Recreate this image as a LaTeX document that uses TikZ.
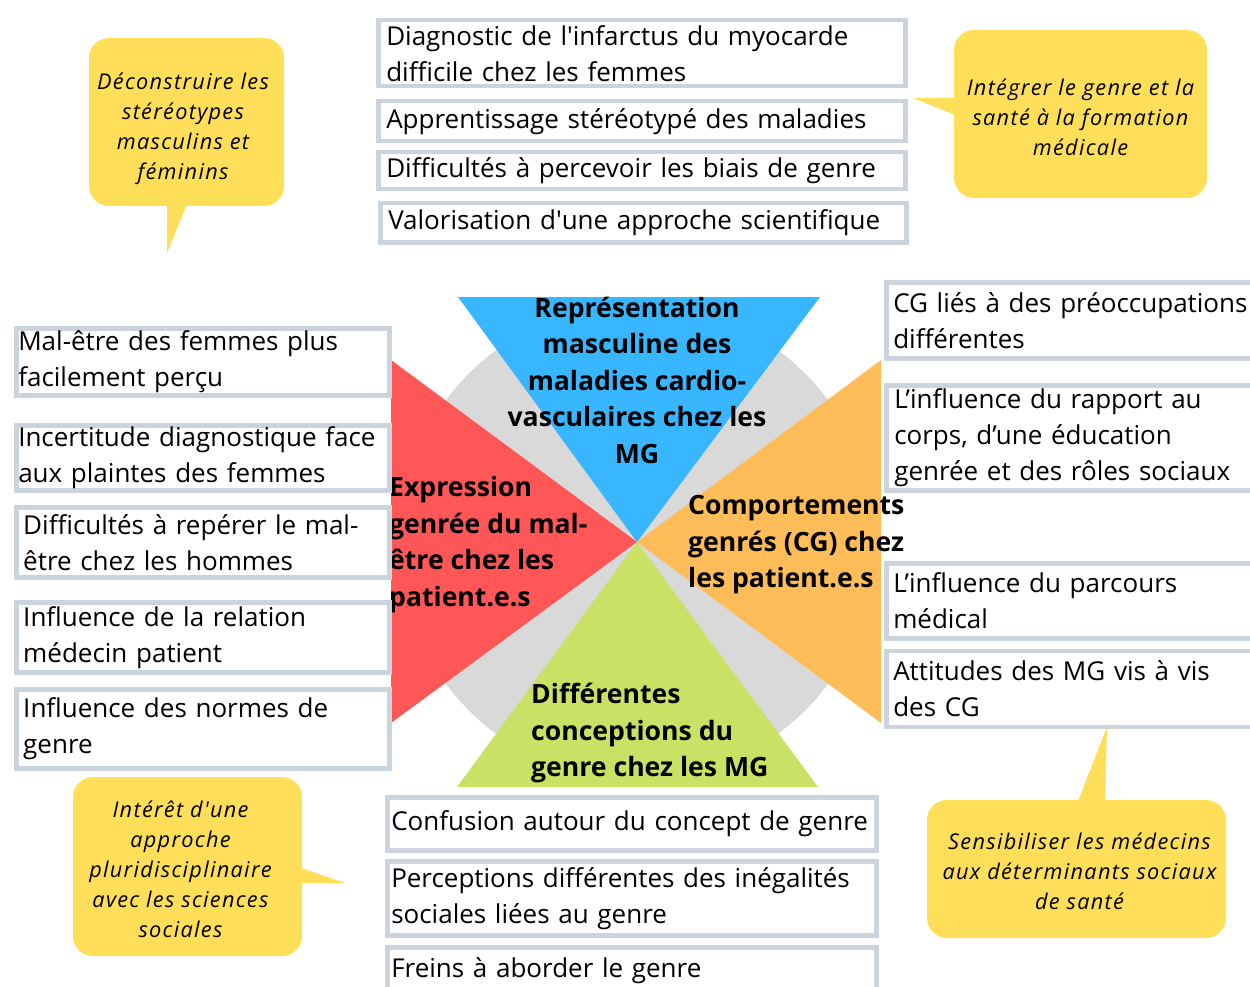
\documentclass[tikz,border=0pt]{standalone}
\usepackage{fontspec}
\setmainfont{Open Sans}
\newfontfamily\bubblefont[LetterSpace=6]{Open Sans}
\definecolor{triBlue}{HTML}{38B6FF}
\definecolor{triRed}{HTML}{FF5757}
\definecolor{triOrange}{HTML}{FFBD59}
\definecolor{triGreen}{HTML}{C9E265}
\definecolor{discGray}{HTML}{D9D9D9}
\definecolor{bubbleYellow}{HTML}{FFDE59}
\definecolor{frameGray}{HTML}{CBD3DC}

\begin{document}
\begin{tikzpicture}[x=1pt,y=-1pt,
    item/.style={draw=frameGray, line width=4.5pt, fill=white, anchor=north west,
        inner ysep=0pt, inner xsep=8pt, align=left, font=\fontsize{26}{36}\selectfont},
    theme/.style={inner sep=0pt, font=\fontsize{26.6}{36.5}\selectfont\bfseries},
    bubble/.style={fill=bubbleYellow, rounded corners=20pt, inner sep=0pt},
    bubbletext/.style={inner sep=0pt, align=center, font=\fontsize{21.7}{30}\selectfont\bubblefont\itshape}]
    \useasboundingbox (0,0) rectangle (1250,987);

    % centre
    \fill[discGray] (637,542) circle (238pt);
    \fill[triBlue] (458,297) -- (820,297) -- (637,542) -- cycle;
    \fill[triRed] (391,360) -- (391,723) -- (637,542) -- cycle;
    \fill[triOrange] (881,360) -- (881,723) -- (637,542) -- cycle;
    \fill[triGreen] (457,787) -- (818,787) -- (637,542) -- cycle;

    \node[theme, align=center] (repr) at (637,380) {Représentation\\masculine des\\maladies cardio-\\vasculaires chez les\\MG};
    \node[theme, align=left, anchor=west] (expr) at (389,544.5) {Expression\\genrée du mal-\\être chez les\\patient.e.s};
    \node[theme, align=left, anchor=west] (comp) at (688,545) {Comportements\\genrés (CG) chez\\les patient.e.s};
    \node[theme, align=left, anchor=west] (conc) at (531,733) {Différentes\\conceptions du\\genre chez les MG};

    % top
    \node[item, text width=511, minimum height=66] (diag) at (376,18) {Diagnostic de l\textquotesingle infarctus du myocarde\\difficile chez les femmes};
    \node[item, text width=511, minimum height=40] (appr) at (376,99) {Apprentissage stéréotypé des maladies};
    \node[item, text width=511, minimum height=37] (perc) at (376,150) {Difficultés à percevoir les biais de genre};
    \node[item, text width=510, minimum height=39] (valo) at (378,201) {Valorisation d\textquotesingle une approche scientifique};

    % left
    \node[item, inner xsep=2pt, text width=369, minimum height=67] (malf) at (14,326) {Mal-être des femmes plus\\facilement perçu};
    \node[item, inner xsep=2pt, text width=369, minimum height=65] (incer) at (14,423) {Incertitude diagnostique face\\aux plaintes des femmes};
    \node[item, inner xsep=7pt, text width=359, minimum height=70] (maloh) at (14,505) {Difficultés à repérer le mal-\\être chez les hommes};
    \node[item, inner xsep=7pt, text width=359, minimum height=70] (relat) at (14,600) {Influence de la relation\\médecin patient};
    \node[item, inner xsep=7pt, text width=359, minimum height=79] (norm) at (14,687) {Influence des normes de\\genre};

    % right
    \node[item, inner xsep=7pt, text width=366, minimum height=76] (preoc) at (884,280) {CG liés à des préoccupations\\différentes};
    \node[item, inner xsep=8pt, text width=364, minimum height=105] (corps) at (884,383) {L’influence du rapport au\\corps, d’une éducation\\genrée et des rôles sociaux};
    \node[item, inner xsep=7pt, text width=366, minimum height=75] (parc) at (884,561) {L’influence du parcours\\médical};
    \node[item, inner xsep=7pt, text width=366, minimum height=76] (attit) at (884,648.5) {Attitudes des MG vis à vis\\des CG};

    % bottom
    \node[item, inner xsep=4pt, text width=481, minimum height=53] (conf) at (385,795) {Confusion autour du concept de genre};
    \node[item, inner xsep=4pt, text width=481, minimum height=74] (ineg) at (385,859) {Perceptions différentes des inégalités\\sociales liées au genre};
    \node[item, inner xsep=4pt, text width=481, minimum height=46] (frein) at (385,945) {Freins à aborder le genre};

    % bulles
    \node[bubble, minimum width=195, minimum height=168] (decon) at (186.5,122) {};
    \fill[bubbleYellow] ([xshift=-19.5pt, yshift=2pt]decon.south) -- ([xshift=0.5pt, yshift=2pt]decon.south) -- ([xshift=-19.5pt, yshift=-47pt]decon.south) -- cycle;
    \node[bubbletext] (decont) at (183,129) {Déconstruire les\\stéréotypes\\masculins et\\féminins};

    \node[bubble, minimum width=253, minimum height=168] (integ) at (1080.5,114) {};
    \fill[bubbleYellow] ([xshift=4pt, yshift=16pt]integ.west) -- ([xshift=4pt, yshift=-2pt]integ.west) -- ([xshift=-41pt, yshift=16pt]integ.west) -- cycle;
    \node[bubbletext] (integt) at (1080.5,117) {Intégrer le genre et la\\santé à la formation\\médicale};

    \node[bubble, minimum width=229, minimum height=179] (pluri) at (187.5,866.5) {};
    \fill[bubbleYellow] ([xshift=-4pt, yshift=-0.5pt]pluri.east) -- ([xshift=43pt, yshift=-16.5pt]pluri.east) -- ([xshift=-4pt, yshift=-16.5pt]pluri.east) -- cycle;
    \node[bubbletext] (plurit) at (180.5,869.5) {Intérêt d'une\\approche\\pluridisciplinaire\\avec les sciences\\sociales};

    \node[bubble, minimum width=299, minimum height=138] (sensi) at (1076.5,869) {};
    \fill[bubbleYellow] ([xshift=0.5pt, yshift=-4pt]sensi.north) -- ([xshift=30.5pt, yshift=73pt]sensi.north) -- ([xshift=28.5pt, yshift=-4pt]sensi.north) -- cycle;
    \node[bubbletext] (sensit) at (1079.5,871) {Sensibiliser les médecins\\aux déterminants sociaux\\de santé};
\end{tikzpicture}
\end{document}
